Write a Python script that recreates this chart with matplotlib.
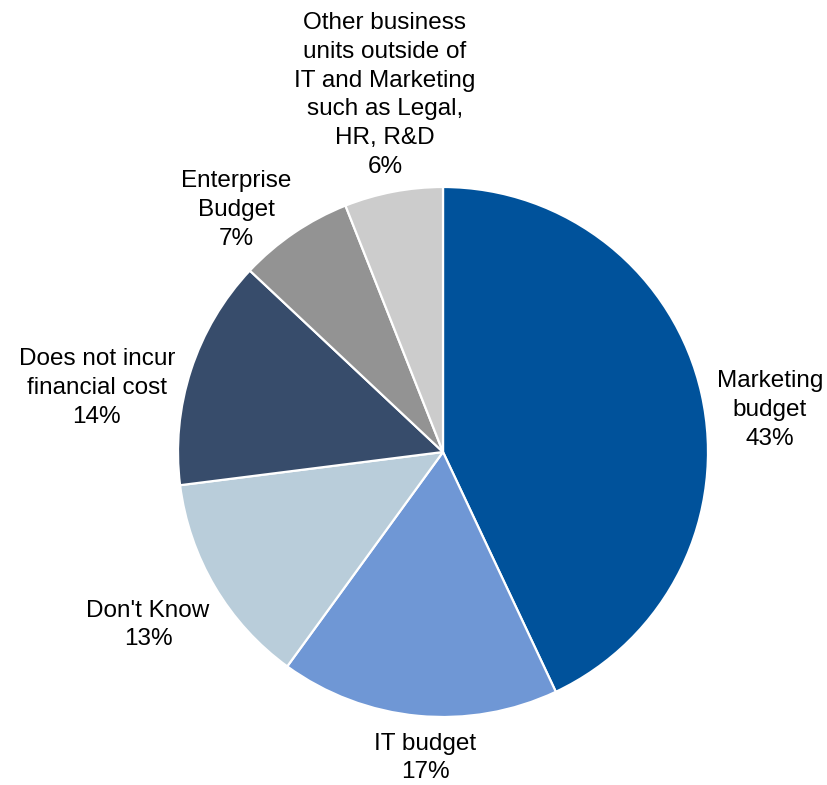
import matplotlib.pyplot as plt

# budget source shares
labels = ["Marketing\nbudget", "IT budget", "Don't Know",
          "Does not incur\nfinancial cost", "Enterprise\nBudget",
          "Other business\nunits outside of\nIT and Marketing\nsuch as Legal,\nHR, R&D"]
shares = [43, 17, 13, 14, 7, 6]
colors = ['#00529b', '#6f97d5', '#b9cdda', '#374c6b', '#939393', '#cccccc']

# label anchor points (in pie radius units, relative to centre)
label_pos = [(1.234, 0.158), (-0.068, -1.155), (-1.113, -0.653),
             (-1.306, 0.242), (-0.781, 0.913), (-0.219, 1.347)]

plt.rcParams['font.family'] = ['Liberation Sans', 'DejaVu Sans']

fig = plt.figure(figsize=(8.27, 7.85), dpi=100)
ax = fig.add_axes([0, 0, 1, 1])

cx, cy, r = 443, 452, 265
ax.pie(shares, colors=colors, startangle=90, counterclock=False,
       wedgeprops=dict(edgecolor='white', linewidth=1.6))

for lab, val, (x, y) in zip(labels, shares, label_pos):
    ax.text(x, y, f"{lab}\n{val}%", ha='center', va='center',
            fontsize=17.5, color='black', linespacing=1.4)

ax.set_xlim(-cx / r, (827 - cx) / r)
ax.set_ylim(-(785 - cy) / r, cy / r)
ax.set_aspect('auto')
ax.axis('off')

fig.savefig("out.png", dpi=100)
